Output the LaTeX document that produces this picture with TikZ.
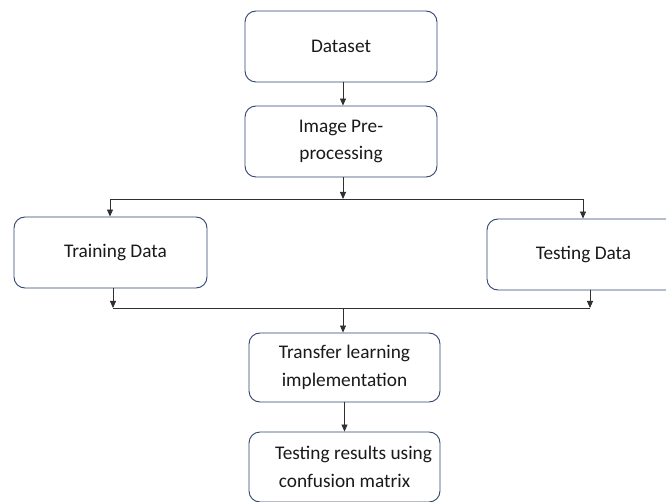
\documentclass[tikz,border=0pt]{standalone}
\usepackage{fontspec}
\setmainfont{Carlito}
\usetikzlibrary{arrows.meta}
\definecolor{boxline}{HTML}{2E4470}
\definecolor{conn}{HTML}{303030}
\definecolor{txt}{HTML}{1A1A1A}
\tikzset{
  flowbox/.style={draw=boxline, line width=0.9pt, rounded corners=11pt, fill=white,
    minimum width=192pt, minimum height=71pt, align=center, inner sep=0pt,
    text=txt, font=\fontsize{19.3}{27.5}\selectfont},
  conline/.style={draw=conn, line width=0.8pt},
  conarrow/.style={conline, -{Triangle[width=6pt,length=7pt]}}
}
\begin{document}
\begin{tikzpicture}[x=1pt,y=-1pt]
\useasboundingbox (0,0) rectangle (666,502);
\clip (0,0) rectangle (666,502);
\fill[white] (0,0) rectangle (666,502);
\node[flowbox] (data) at (341,46.5) {Dataset};
\node[flowbox] (pre) at (341,141.5) {Image Pre-\\processing};
\node[flowbox, minimum width=193pt] (train) at (110.5,252.5) {\hspace*{10pt}Training Data};
\node[flowbox, minimum width=193pt] (test) at (583.5,254.5) {Testing Data};
\node[flowbox, minimum width=191pt, minimum height=69pt] (tl) at (344.5,367.5) {Transfer learning\\implementation};
\node[flowbox, minimum width=191pt, minimum height=70pt] (res) at (344.5,467) {\hspace*{18pt}Testing results using\\confusion matrix};
\coordinate (j1) at (343,199);
\coordinate (jl) at (110,199);
\coordinate (jr) at (583,199);
\coordinate (k1) at (343,308);
\coordinate (kl) at (113,308);
\coordinate (kr) at (590,308);
\draw[conarrow] (data.south -| j1) -- (pre.north -| j1);
\draw[conarrow] (pre.south -| j1) -- (j1);
\draw[conline] (jl) -- (jr);
\draw[conarrow] (jl) -- (train.north -| jl);
\draw[conarrow] (jr) -- (test.north -| jr);
\draw[conarrow] (train.south -| kl) -- (kl);
\draw[conarrow] (test.south -| kr) -- (kr);
\draw[conline] (kl) -- (kr);
\draw[conarrow] (k1) -- (tl.north -| k1);
\draw[conarrow] (tl.south) -- (res.north);
\end{tikzpicture}
\end{document}
